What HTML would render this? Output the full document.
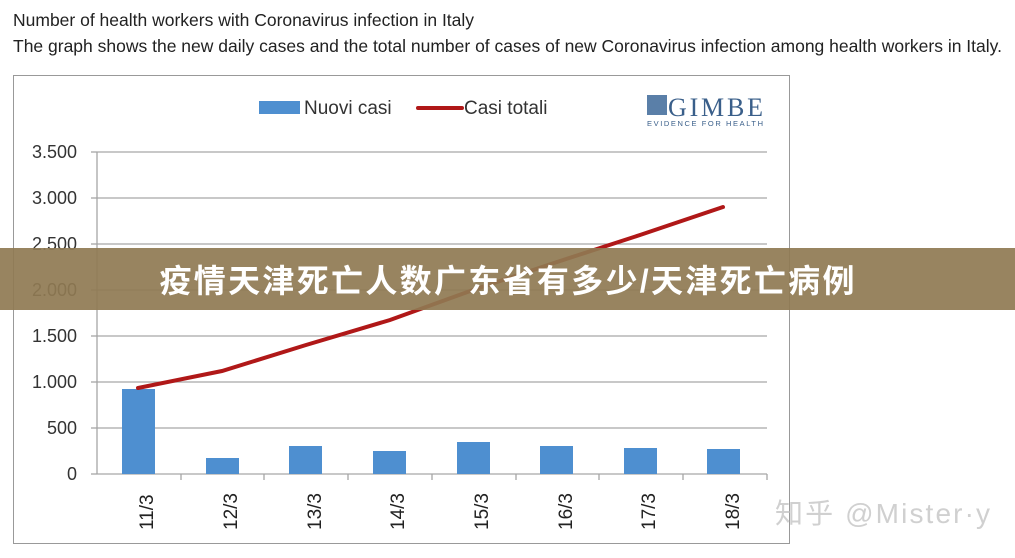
<!DOCTYPE html>
<html><head><meta charset="utf-8"><style>
body{margin:0;width:1015px;height:558px;background:#fff;overflow:hidden;position:relative;font-family:"Liberation Sans Narrow","Liberation Sans",sans-serif}
.t{position:absolute;left:13px;color:#222;font-size:17.5px;white-space:nowrap}
</style></head><body>
<div class="t" style="top:10px">Number of health workers with Coronavirus infection in Italy</div>
<div class="t" style="top:36px">The graph shows the new daily cases and the total number of cases of new Coronavirus infection among health workers in Italy.</div>
<svg width="1015" height="558" style="position:absolute;left:0;top:0" font-family="Liberation Sans Narrow, Liberation Sans, sans-serif">
<rect x="13.5" y="75.5" width="776" height="468" fill="#fff" stroke="#999"/>
<g stroke="#a6a6a6" stroke-width="1.3">
<line x1="97" x2="767" y1="152" y2="152"/><line x1="97" x2="767" y1="198" y2="198"/>
<line x1="97" x2="767" y1="244" y2="244"/><line x1="97" x2="767" y1="290" y2="290"/>
<line x1="97" x2="767" y1="336" y2="336"/><line x1="97" x2="767" y1="382" y2="382"/>
<line x1="97" x2="767" y1="428" y2="428"/><line x1="97" x2="767" y1="474" y2="474"/>
<line x1="97" x2="97" y1="152" y2="474"/>
<g><line x1="91" x2="97" y1="152" y2="152"/><line x1="91" x2="97" y1="198" y2="198"/><line x1="91" x2="97" y1="244" y2="244"/><line x1="91" x2="97" y1="290" y2="290"/><line x1="91" x2="97" y1="336" y2="336"/><line x1="91" x2="97" y1="382" y2="382"/><line x1="91" x2="97" y1="428" y2="428"/><line x1="91" x2="97" y1="474" y2="474"/></g>
<g><line x1="181" x2="181" y1="474" y2="480"/><line x1="264" x2="264" y1="474" y2="480"/><line x1="348" x2="348" y1="474" y2="480"/><line x1="432" x2="432" y1="474" y2="480"/><line x1="516" x2="516" y1="474" y2="480"/><line x1="599" x2="599" y1="474" y2="480"/><line x1="683" x2="683" y1="474" y2="480"/><line x1="767" x2="767" y1="474" y2="480"/></g>
</g>
<g font-size="18" fill="#333" text-anchor="end">
<text x="77" y="158">3.500</text><text x="77" y="204">3.000</text><text x="77" y="250">2.500</text><text x="77" y="296">2.000</text><text x="77" y="342">1.500</text><text x="77" y="388">1.000</text><text x="77" y="434">500</text><text x="77" y="480">0</text>
</g>
<g fill="#4e8fd0">
<rect x="122" y="389" width="33" height="85"/><rect x="206" y="458" width="33" height="16"/>
<rect x="289" y="446" width="33" height="28"/><rect x="373" y="451" width="33" height="23"/>
<rect x="457" y="442" width="33" height="32"/><rect x="540" y="446" width="33" height="28"/>
<rect x="624" y="448" width="33" height="26"/><rect x="707" y="449" width="33" height="25"/>
</g>
<polyline points="138,388 222,371 306,345 390,320 473,290 557,262 640,235 723,207" fill="none" stroke="#b01818" stroke-width="4" stroke-linecap="round"/>
<g font-size="19" fill="#222" font-family="Liberation Sans, sans-serif">
<text transform="translate(153,530) rotate(-90)">11/3</text><text transform="translate(237,530) rotate(-90)">12/3</text>
<text transform="translate(321,530) rotate(-90)">13/3</text><text transform="translate(404,530) rotate(-90)">14/3</text>
<text transform="translate(488,530) rotate(-90)">15/3</text><text transform="translate(572,530) rotate(-90)">16/3</text>
<text transform="translate(655,530) rotate(-90)">17/3</text><text transform="translate(739,530) rotate(-90)">18/3</text>
</g>
<rect x="259" y="101" width="41" height="13" fill="#4e8fd0"/>
<text x="304" y="114" font-size="19" fill="#333">Nuovi casi</text>
<line x1="418" x2="462" y1="108" y2="108" stroke="#b01818" stroke-width="4" stroke-linecap="round"/>
<text x="464" y="114" font-size="19" fill="#333">Casi totali</text>
<rect x="647" y="95" width="20" height="20" fill="#5a7fa8"/>
<text x="668" y="116" font-size="26" fill="#3a5f8a" font-family="Liberation Serif, serif" textLength="95">GIMBE</text>
<text x="647" y="126" font-size="7.5" fill="#3a5f8a" textLength="116">EVIDENCE FOR HEALTH</text>
<rect x="0" y="248" width="1015" height="62" fill="#8f7a52" opacity="0.92"/>
<text x="507" y="292" font-size="32" font-weight="bold" fill="#fff" text-anchor="middle" textLength="695" font-family="Liberation Sans, Noto Sans CJK SC, sans-serif">疫情天津死亡人数广东省有多少/天津死亡病例</text>
<text x="775" y="523" font-size="28" fill="#d0d0d0" textLength="215" font-family="Liberation Sans, Noto Sans CJK SC, sans-serif">知乎 @Mister·y</text>
</svg>
</body></html>
